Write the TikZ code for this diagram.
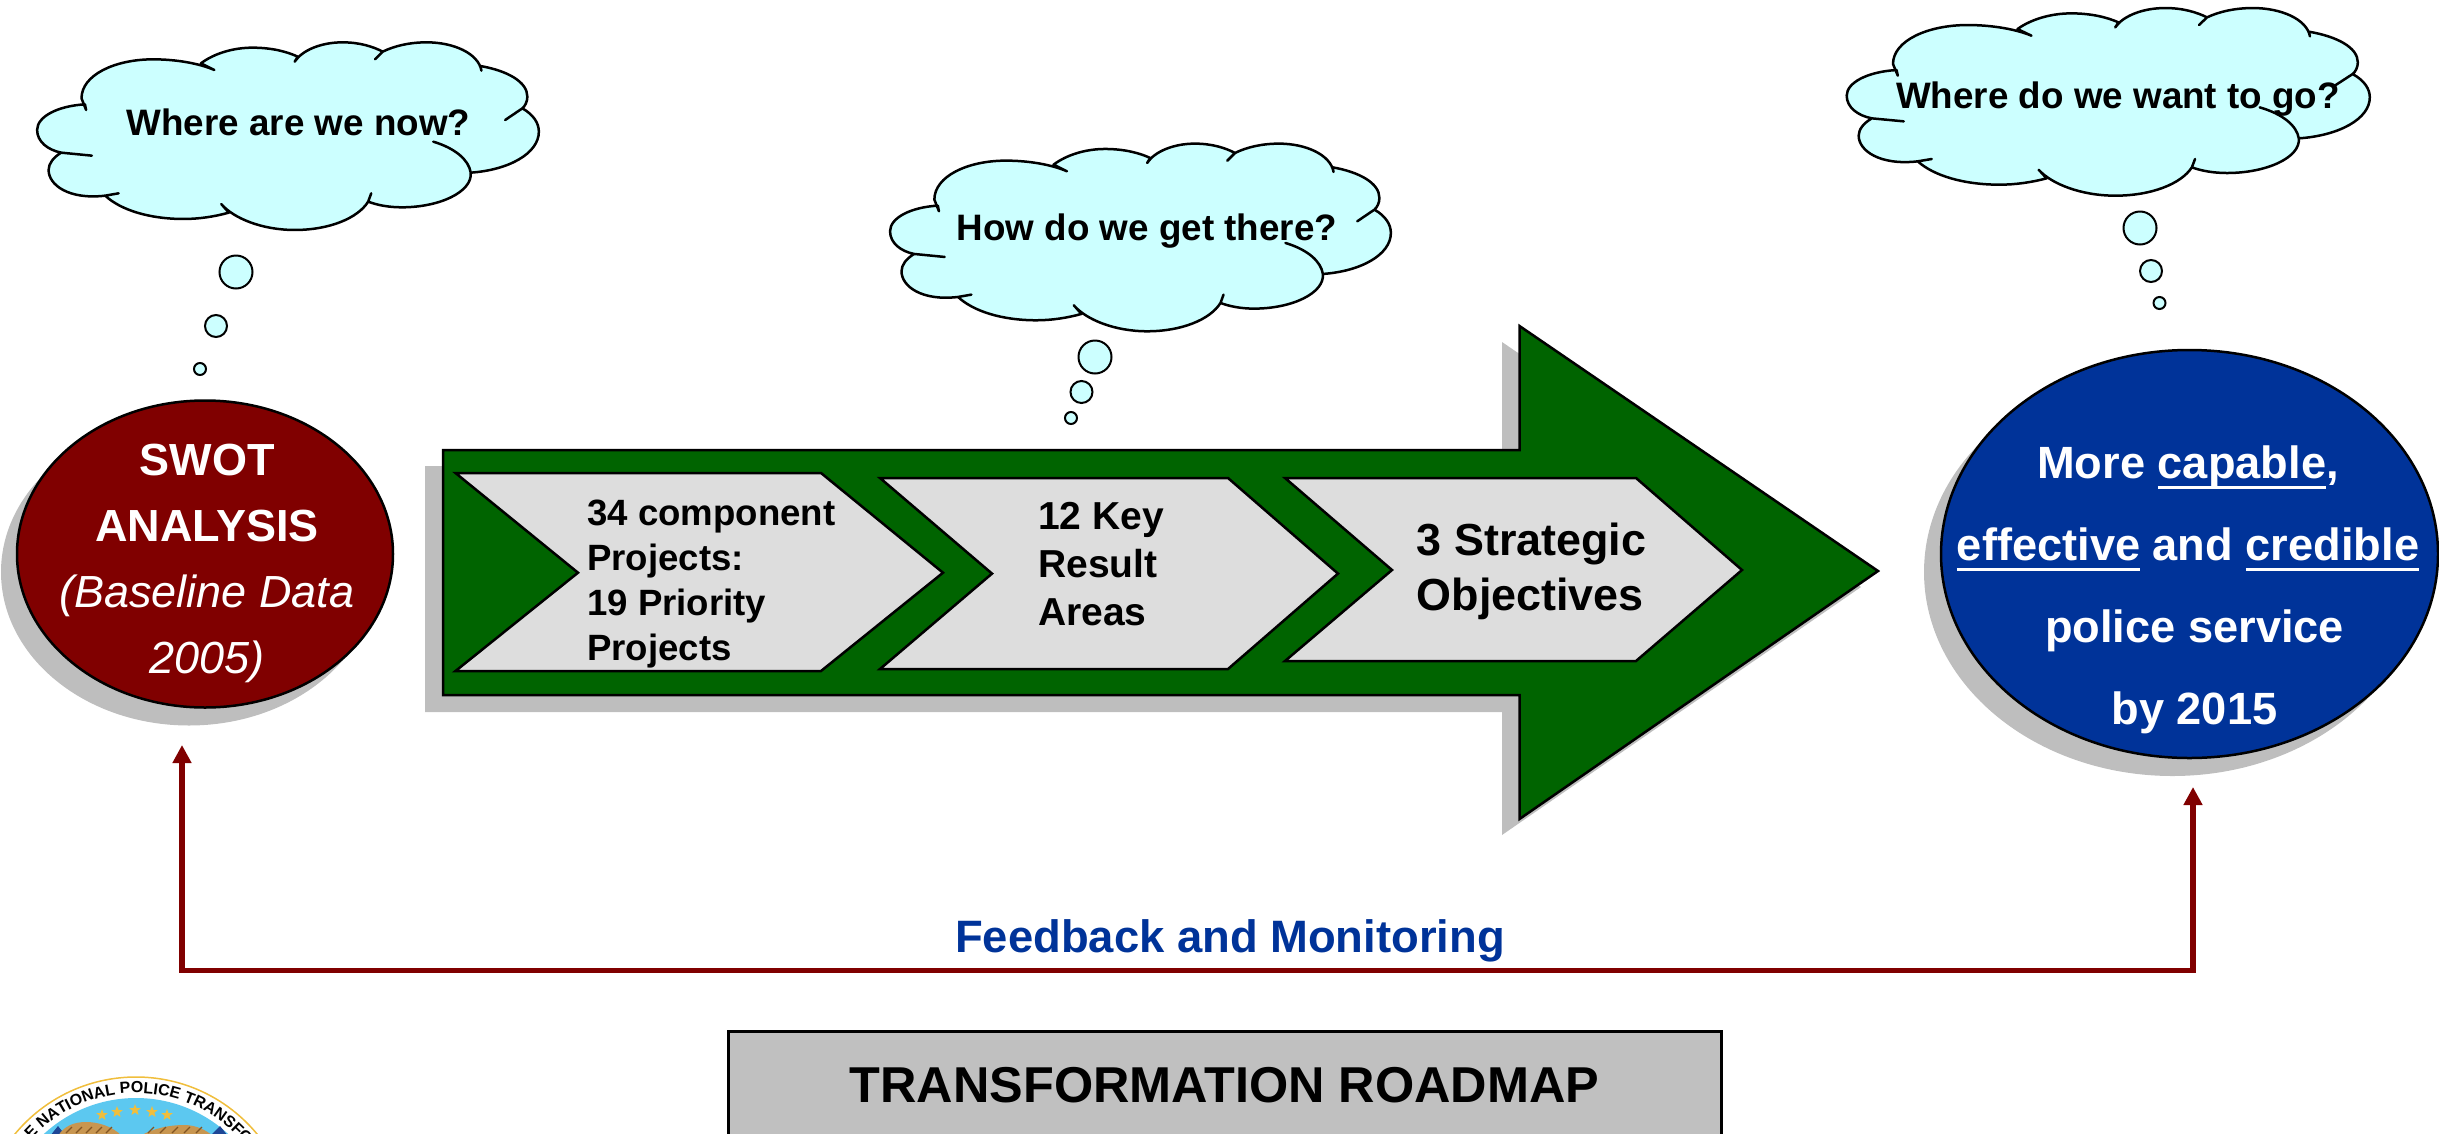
\documentclass[tikz,border=0pt]{standalone}
\usepackage{fontspec}
\setmainfont{Liberation Sans}
\usepackage{xcolor}
\usetikzlibrary{arrows.meta,shapes.geometric,decorations.text}
\definecolor{cloudcyan}{RGB}{204,255,255}
\definecolor{roadgreen}{RGB}{0,100,0}
\definecolor{stagegray}{RGB}{221,221,221}
\definecolor{shadowgray}{RGB}{190,190,190}
\definecolor{boxgray}{RGB}{192,192,192}
\definecolor{swotred}{RGB}{128,0,0}
\definecolor{goalblue}{RGB}{0,51,153}
\definecolor{sealblue}{RGB}{92,200,240}
\definecolor{sealgold}{RGB}{240,190,60}
\definecolor{wingbrown}{RGB}{200,150,80}
\definecolor{wingdark}{RGB}{130,85,35}
\definecolor{sealnavy}{RGB}{30,70,150}
\newcommand{\pxfont}[2]{\fontsize{#1}{#2}\selectfont}
\newcommand{\ulword}[1]{\setbox0=\hbox{#1}\rlap{\vrule width \wd0 height -7pt depth 10.5pt}\box0\relax}
% one cloud outline, lobes with their inner spurs
\newcommand{\cloudoutline}{
  \path[draw=black,fill=cloudcyan,line width=2.5pt,line join=round]
    (225,330) -- (213,295)
    .. controls (213,225) and (300,178) .. (400,178)
    .. controls (460,178) and (520,190) .. (560,210) -- (525,190)
    .. controls (560,160) and (610,143) .. (660,143)
    .. controls (710,143) and (750,155) .. (778,170) -- (770,185)
    .. controls (790,150) and (840,127) .. (895,127)
    .. controls (940,127) and (975,140) .. (1000,155) -- (980,178) -- (1000,155)
    .. controls (1030,138) and (1070,127) .. (1115,127)
    .. controls (1185,127) and (1250,160) .. (1258,212) -- (1255,198)
    .. controls (1325,212) and (1378,245) .. (1378,290)
    .. controls (1378,305) and (1372,318) .. (1365,325) -- (1320,360) -- (1365,325)
    .. controls (1395,345) and (1408,370) .. (1408,395)
    .. controls (1408,460) and (1330,510) .. (1230,518)
    .. controls (1225,480) and (1190,445) .. (1132,425)
    .. controls (1190,445) and (1225,480) .. (1230,518)
    .. controls (1235,575) and (1150,622) .. (1050,622)
    .. controls (1015,622) and (985,615) .. (962,605) -- (970,580) -- (962,605)
    .. controls (935,655) and (860,690) .. (770,690)
    .. controls (685,690) and (610,655) .. (578,612) -- (598,638)
    .. controls (560,650) and (520,657) .. (480,657)
    .. controls (390,657) and (315,630) .. (275,587) -- (310,580) -- (275,587)
    .. controls (180,600) and (127,555) .. (127,510)
    .. controls (127,490) and (140,472) .. (160,458) -- (240,467) -- (160,458)
    .. controls (125,450) and (97,425) .. (97,390)
    .. controls (97,350) and (150,318) .. (222,313) -- cycle;
}
\tikzset{
  bubble/.style={draw=black,fill=cloudcyan,line width=2pt},
  outlined/.style={draw=black,line width=2.5pt,line join=miter},
  stage/.style={outlined,fill=stagegray},
  cloudtext/.style={anchor=base,inner sep=0pt,font=\pxfont{36.8}{44}\bfseries},
  stagetext/.style={anchor=base west,inner sep=0pt,align=left},
  ovaltext/.style={anchor=base,inner sep=0pt,align=center,text=white}
}
\begin{document}
\begin{tikzpicture}[x=1pt,y=-1pt]
  \clip (0,0) rectangle (2439,1133);
  % thought clouds
  \begin{scope}[xscale=0.3827,yscale=0.3333]
    \cloudoutline
  \end{scope}
  \begin{scope}[shift={(853,101.3)},xscale=0.382,yscale=0.3333]
    \cloudoutline
  \end{scope}
  \begin{scope}[shift={(1808,-34.3)},xscale=0.399,yscale=0.3333]
    \cloudoutline
  \end{scope}
  \node[cloudtext] (nowtext) at (298.5,135) {Where are we now?};
  \node[cloudtext] (howtext) at (1147,240) {How do we get there?};
  \node[cloudtext] (wheretext) at (2118,108) {Where do we want to go?};
  \foreach \x/\y/\r in {236/272/16.5,216/326/11,200/369/6,
                        1095/357/16.5,1081.5/392/11,1071/418/6,
                        2140/228/16.5,2151/271/11,2159.5/303/6} {
    \draw[bubble] (\x,\y) circle (\r);
  }
  % main arrow
  \fill[shadowgray] (425,466) -- (1502,466) -- (1502,342) -- (1861,587) -- (1502,835) -- (1502,712) -- (425,712) -- cycle;
  \draw[outlined,fill=roadgreen] (443,450) -- (1519.5,450) -- (1519.5,326) -- (1878,571) -- (1519.5,819) -- (1519.5,695) -- (443,695) -- cycle;
  \draw[stage] (455.5,473) -- (821,473) -- (943,572.7) -- (821,671) -- (455.5,671) -- (578,572.7) -- cycle;
  \draw[stage] (880,478) -- (1228,478) -- (1338,573.6) -- (1228,669) -- (880,669) -- (992,573.6) -- cycle;
  \draw[stage] (1285,478) -- (1636,478) -- (1742,570) -- (1636,661) -- (1285,661) -- (1392,570) -- cycle;
  \node[stagetext,font=\pxfont{36.6}{44.7}\bfseries] (projects) at (587,660) {34 component\\Projects:\\19 Priority\\Projects};
  \node[stagetext,font=\pxfont{39}{47.8}\bfseries] (keyareas) at (1038,625.5) {12 Key\\Result\\Areas};
  \node[stagetext,font=\pxfont{44.9}{55}\bfseries] (objectives) at (1416.5,610) {3 Strategic\\Objectives};
  % ovals
  \fill[shadowgray] (189,572) ellipse [x radius=188,y radius=153.5];
  \draw[outlined,fill=swotred] (205,554) ellipse [x radius=188,y radius=153.5];
  \node[ovaltext,font=\pxfont{45}{65.7}] (swot) at (207,673) {\textbf{SWOT}\\\textbf{ANALYSIS}\\\textit{(Baseline Data}\\\textit{2005)}};
  \fill[shadowgray] (2172.5,572) ellipse [x radius=248.5,y radius=204];
  \draw[outlined,fill=goalblue] (2189.5,554) ellipse [x radius=248.5,y radius=204];
  \node[ovaltext,font=\pxfont{45.2}{81.7}\bfseries] (goal) at (2188,724) {More \ulword{capable},\\\ulword{effective} and \ulword{credible}\\\hspace*{13pt}police service\\\hspace*{13pt}by 2015};
  % feedback loop
  \coordinate (swottip) at (182,745);
  \coordinate (goaltip) at (2193,787);
  \coordinate (loopleft) at (182,970.5);
  \coordinate (loopright) at (2193,970.5);
  \draw[swotred,line width=5.7pt,{Triangle[length=18pt,width=18pt]}-{Triangle[length=18pt,width=18pt]}] (swottip) -- (loopleft) -- (loopright) -- (goaltip);
  \node[anchor=base,inner sep=0pt,text=goalblue,font=\pxfont{45.4}{50}\bfseries] (feedback) at (1230,952.7) {Feedback and Monitoring};
  % title box
  \draw[draw=black,line width=3pt,fill=boxgray] (728,1031.7) rectangle (1721,1180);
  \node[anchor=base,inner sep=0pt,font=\pxfont{50.4}{56}\bfseries] (roadmap) at (1224.5,1102.7) {TRANSFORMATION ROADMAP};
  % seal, cut off by the page edge
  \begin{scope}[shift={(136,1234)},y=1pt]
    \draw[draw=sealgold,fill=white,line width=1.5pt] (0,0) circle (157);
    \fill[sealblue] (0,0) circle (136);
    \fill[sealnavy] (-86,98) -- (-78,108) -- (-70,98) -- cycle;
    \fill[sealnavy] (74,98) -- (84,108) -- (92,98) -- cycle;
    \fill[wingbrown] (-78,98) .. controls (-72,108) and (-62,112) .. (-50,112) .. controls (-38,112) and (-24,108) .. (-14,98) -- cycle;
    \fill[wingbrown] (4,98) .. controls (18,106) and (34,109) .. (48,109) .. controls (60,109) and (70,104) .. (77,98) -- cycle;
    \foreach \x in {-70,-60,-50,-40,-30,12,24,36,48,60} {
      \draw[wingdark,line width=1.2pt] (\x,101) -- ++(6,6);
    }
    \foreach \x/\y [count=\n] in {-34/119,-19/122,-1/124,16/122,31/119} {
      \node[star,star points=5,star point ratio=2.4,fill=sealgold,inner sep=0pt,minimum size=12pt] (star\n) at (\x,\y) {};
    }
    \path[decorate,decoration={text along path,text align=left,
      text={|\pxfont{16}{18}\bfseries|E NATIONAL POLICE TRANSFO}}]
      (138:141) arc (138:30:141);
  \end{scope}
\end{tikzpicture}
\end{document}
